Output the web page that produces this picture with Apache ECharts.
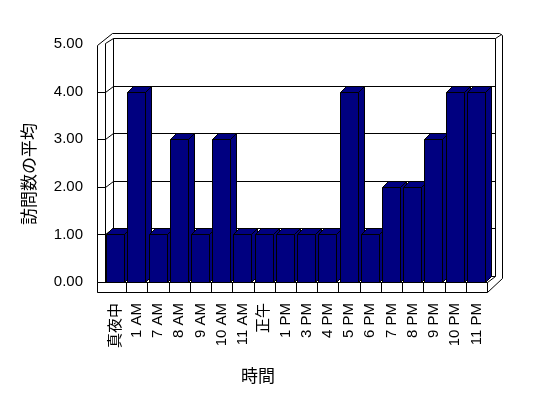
<!DOCTYPE html>
<html>
<head>
<meta charset="utf-8">
<script src="https://cdn.jsdelivr.net/npm/echarts@6/dist/echarts.min.js"></script>
<style>
html,body{margin:0;padding:0;background:#fff}
#chart{width:548px;height:398px}
</style>
</head>
<body>
<div id="chart"></div>
<script>
// data
const hours = ['真夜中','1 AM','7 AM','8 AM','9 AM','10 AM','11 AM','正午','1 PM','3 PM','4 PM','5 PM','6 PM','7 PM','8 PM','9 PM','10 PM','11 PM'];
const visits = [1,4,1,3,1,3,1,1,1,1,1,4,1,2,2,3,4,4];
const yTicks = [0,1,2,3,4,5];

const FONT = '"Liberation Sans","Noto Sans CJK JP",sans-serif';
const WX = 8, WY = 6;   // wall depth offset
const BX = 6, BY = 6;   // bar depth offset
const NAVY = '#000080';

const px = v => Math.round(v) + 0.5;
const ln = pts => ({
    type:'polyline',
    shape:{points:pts.map(p => [px(p[0]), px(p[1])])},
    style:{stroke:'#000', lineWidth:1, fill:null}
});

// walls, floor and grid lines of the 3d box
function renderFrame(params, api){
    const cs = params.coordSys;
    const L = cs.x, R = cs.x + cs.width, T = cs.y, B = cs.y + cs.height;
    const band = cs.width / hours.length;
    const kids = [];
    // back wall
    kids.push({type:'rect',
        shape:{x:px(L+WX), y:px(T-WY), width:Math.round(R-L), height:Math.round(B-T)},
        style:{fill:'#fff', stroke:'#000', lineWidth:1}});
    yTicks.forEach(v => {
        const y = api.coord([0, v])[1];
        if(v > 0 && v < 5) kids.push(ln([[L+WX, y-WY],[R+WX, y-WY]]));
        if(v < 5) kids.push(ln([[L-WX, y],[L, y],[L+WX, y-WY]]));
    });
    // left wall
    kids.push(ln([[L-WX, B+10],[L-WX, T+1],[L+7, T-11],[R+12, T-11],[R+15, T-9],[R+15, B-4],[R, B+10]]));
    kids.push(ln([[L, B],[L, T-1],[L+WX, T-WY]]));
    kids.push(ln([[R+WX, T-WY],[R+14, T-10]]));
    // floor front
    kids.push({type:'rect',
        shape:{x:px(L-WX), y:px(B), width:Math.round(R-L+WX), height:10},
        style:{fill:'#fff', stroke:'#000', lineWidth:1}});
    for(let k = 1; k < hours.length; k++){
        kids.push(ln([[L + k*band, B],[L + k*band, B+10]]));
    }
    kids.push(ln([[R, B],[R+WX, B-WY]]));
    return {type:'group', children:kids};
}

function renderBar(params, api){
    const top = api.coord([api.value(0), api.value(1)]);
    const base = api.coord([api.value(0), 0]);
    const band = api.size([1, 0])[0];
    const x0 = Math.round(top[0] - band*0.45) + 0.5;
    const x1 = x0 + Math.round(band*0.83);
    const yT = Math.round(top[1]) + 0.5, yB = Math.round(base[1]) + 0.5;
    const st = {fill:NAVY, stroke:'#000', lineWidth:1};
    return {type:'group', children:[
        {type:'polygon', shape:{points:[[x1,yT],[x1+BX,yT-BY],[x1+BX,yB-BY],[x1,yB]]}, style:st},
        {type:'polygon', shape:{points:[[x0,yT],[x0+BX,yT-BY],[x1+BX,yT-BY],[x1,yT]]}, style:st},
        {type:'rect', shape:{x:x0, y:yT, width:x1-x0, height:yB-yT}, style:st}
    ]};
}

const chart = echarts.init(document.getElementById('chart'));
chart.setOption({
    backgroundColor:'#fff',
    animation:false,
    grid:{left:105, right:61, top:44, bottom:116},
    xAxis:{
        type:'category',
        data:hours,
        axisLine:{show:false},
        axisTick:{show:false},
        axisLabel:{rotate:90, interval:0, margin:21, color:'#000', fontSize:15, fontFamily:FONT}
    },
    yAxis:{
        type:'value',
        min:0, max:5, interval:1,
        axisLine:{show:false},
        axisTick:{show:false},
        splitLine:{show:false},
        axisLabel:{margin:22, color:'#000', fontSize:15, fontFamily:FONT,
            formatter:v => v.toFixed(2)}
    },
    graphic:[
        {type:'text', x:30, y:174, rotation:Math.PI/2,
            style:{text:'訪問数の平均', fontSize:17, fontFamily:FONT, fill:'#000', align:'center', verticalAlign:'middle'}},
        {type:'text', x:258, y:377,
            style:{text:'時間', fontSize:17, fontFamily:FONT, fill:'#000', align:'center', verticalAlign:'middle'}}
    ],
    series:[
        {type:'custom', renderItem:renderFrame, data:[[0,0]], clip:false, silent:true, z:1},
        {type:'custom', renderItem:renderBar, data:visits.map((v,i) => [i,v]),
            encode:{x:0, y:1}, clip:false, z:2}
    ]
});
</script>
</body>
</html>
